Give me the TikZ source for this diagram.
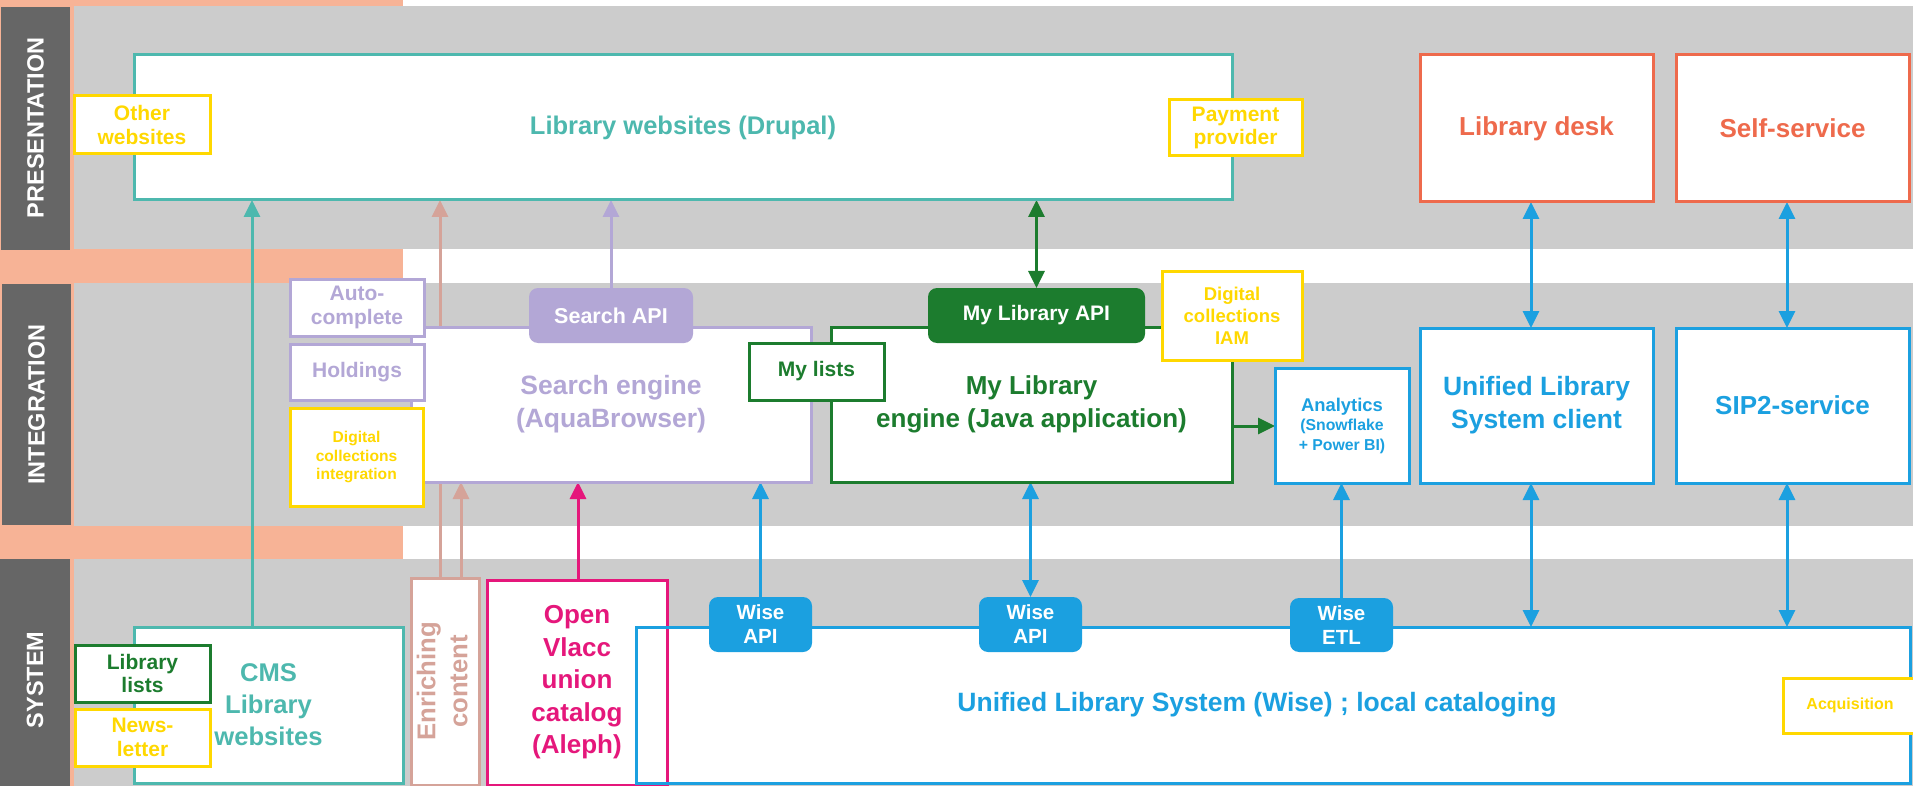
\documentclass[tikz,border=0pt]{standalone}
\usepackage{fontspec}
\setmainfont{Liberation Sans}
\usetikzlibrary{arrows.meta}
\definecolor{bandgray}{HTML}{CCCCCC}
\definecolor{labeldark}{HTML}{666666}
\definecolor{salmon}{HTML}{F7B396}
\definecolor{cteal}{HTML}{4DB8AE}
\definecolor{cgold}{HTML}{FFD800}
\definecolor{clav}{HTML}{B3A7D6}
\definecolor{cgreen}{HTML}{1C7C2E}
\definecolor{cmag}{HTML}{E5177B}
\definecolor{cblue}{HTML}{1BA0E0}
\definecolor{ccoral}{HTML}{EE6A4C}
\definecolor{crose}{HTML}{D5A399}
\pgfdeclarelayer{back}
\pgfsetlayers{back,main}
\tikzset{
  box/.style={draw, fill=white, line width=3pt, inner sep=0pt, outer sep=0pt, align=center},
  sz/.style 2 args={minimum width=#1pt, minimum height=#2pt},
  big/.style={font=\fontsize{26}{32.5}\selectfont\bfseries},
  mid/.style={font=\fontsize{21}{23.5}\selectfont\bfseries},
  pill/.style={rounded corners=9pt, inner sep=0pt, outer sep=0pt, align=center, text=white, font=\fontsize{21}{24}\selectfont\bfseries},
  conn/.style={line width=3pt},
  bandlabel/.style={rotate=90, text=white, inner sep=0pt, font=\fontsize{23.5}{28}\selectfont\bfseries}
}
\begin{document}
\begin{tikzpicture}[x=1pt,y=-1pt,>={Triangle[length=17pt,width=16pt]}]
\useasboundingbox (0,0) rectangle (1913,786);

% band labels
\node[bandlabel] (lpres) at (35.5,128) {PRESENTATION};
\node[bandlabel] (linteg) at (36.5,404.5) {INTEGRATION};
\node[bandlabel] (lsys) at (35,680) {SYSTEM};

% presentation layer
\node[box, sz={1098}{145}, draw=cteal, text=cteal, font=\fontsize{25.5}{30}\selectfont\bfseries] (libweb) at (683,127.5) {Library websites (Drupal)};
\node[box, sz={136}{58}, mid, draw=cgold, text=cgold] (otherweb) at (142,125) {Other\\websites};
\node[box, sz={133}{56}, mid, draw=cgold, text=cgold] (payment) at (1235.5,128) {Payment\\provider};
\node[box, sz={233}{147}, big, draw=ccoral, text=ccoral] (libdesk) at (1536.5,128.5) {Library desk};
\node[box, sz={233}{147}, big, draw=ccoral, text=ccoral] (selfserv) at (1792.5,128.5) {Self-service};

% integration layer
\node[box, sz={400}{155}, draw=clav, text=clav, font=\fontsize{26.5}{33}\selectfont\bfseries] (search) at (611,404.5) {Search engine\\(AquaBrowser)};
\node[box, sz={134}{57}, mid, draw=clav, text=clav] (autoc) at (357,307.5) {Auto-\\complete};
\node[box, sz={134}{56}, mid, draw=clav, text=clav] (holdings) at (357,372) {Holdings};
\node[box, sz={133}{98}, draw=cgold, text=cgold, font=\fontsize{15.6}{18.5}\selectfont\bfseries] (dcint) at (356.5,457) {Digital\\collections\\integration};
\node[pill, fill=clav, sz={164}{55}, font=\fontsize{21.5}{24}\selectfont\bfseries] (searchapi) at (611,315.5) {Search API};
\node[box, sz={401}{155}, big, draw=cgreen, text=cgreen] (engine) at (1031.5,404.5) {My Library\\engine (Java application)};
\node[box, sz={135}{57}, mid, draw=cgreen, text=cgreen] (mylists) at (816.5,371.5) {My lists};
\node[pill, fill=cgreen, sz={217}{55}] (mylibapi) at (1036.5,315.5) {My Library API};
\node[box, sz={140}{88}, draw=cgold, text=cgold, font=\fontsize{18.5}{22}\selectfont\bfseries] (iam) at (1232,316) {Digital\\collections\\IAM};
\node[box, sz={134}{115}, draw=cblue, text=cblue, font=\fontsize{18.4}{19.5}\selectfont\bfseries] (analytics) at (1342,425.5) {Analytics\\{\fontsize{15.8}{19}\selectfont(Snowflake}\\{\fontsize{15.8}{19}\selectfont+ Power BI)}};
\node[box, sz={233}{155}, draw=cblue, text=cblue, font=\fontsize{26.5}{33}\selectfont\bfseries] (uclient) at (1536.5,405.5) {Unified Library\\System client};
\node[box, sz={233}{155}, big, draw=cblue, text=cblue] (sip2) at (1792.5,405.5) {SIP2-service};

% system layer
\node[box, sz={269}{156}, draw=cteal, text=cteal, font=\fontsize{25.6}{32}\selectfont\bfseries] (cms) at (268.5,705) {CMS\\Library\\websites};
\node[box, sz={135}{57}, mid, draw=cgreen, text=cgreen] (liblists) at (142.5,673.5) {Library\\lists};
\node[box, sz={135}{57}, mid, draw=cgold, text=cgold] (newsletter) at (142.5,737.5) {News-\\letter};
\node[box, sz={68}{207}, draw=crose, text=crose, font=\fontsize{25.7}{32}\selectfont\bfseries] (enrich) at (445,681.5) {\rotatebox{90}{\begin{tabular}{@{}c@{}}Enriching\\content\end{tabular}}};
\node[box, sz={1274}{156}, draw=none, fill=white] (uls) at (1273,705) {};
\node[box, sz={180}{205}, big, draw=cmag, text=cmag] (vlacc) at (577,682.5) {Open\\Vlacc\\union\\catalog\\(Aleph)};
\node[box, sz={1274}{156}, fill=none, draw=cblue, text=cblue, font=\fontsize{26.5}{33}\selectfont\bfseries] (ulsframe) at (1273,705) {Unified Library System (Wise) ; local cataloging\hspace*{32pt}};
\node[pill, fill=cblue, sz={103}{55}, font=\fontsize{20.5}{24}\selectfont\bfseries] (wiseapi1) at (760.5,624.5) {Wise\\API};
\node[pill, fill=cblue, sz={103}{55}, font=\fontsize{20.5}{24}\selectfont\bfseries] (wiseapi2) at (1030.5,624.5) {Wise\\API};
\node[pill, fill=cblue, sz={103}{54}, font=\fontsize{20.5}{24}\selectfont\bfseries] (wiseetl) at (1341.5,625) {Wise\\ETL};
\node[box, sz={134}{55}, draw=cgold, text=cgold, font=\fontsize{16}{19}\selectfont\bfseries] (acq) at (1850,705.5) {Acquisition};

% column coordinates
\coordinate (kteal) at (252,0);
\coordinate (krose) at (440,0);
\coordinate (krose2) at (461,0);
\coordinate (kmag) at (578,0);
\coordinate (kb1) at (1531,0);
\coordinate (kb2) at (1787,0);
\coordinate (kg) at (0,426);

\begin{pgfonlayer}{back}
  % bands
  \fill[salmon] (0,0) rectangle (403,786);
  \fill[bandgray] (74,6) rectangle (1913,249);
  \fill[bandgray] (74,283) rectangle (1913,526);
  \fill[bandgray] (74,559) rectangle (1913,786);
  \fill[labeldark] (1,7) rectangle (70,250);
  \fill[labeldark] (2,284) rectangle (71,525);
  \fill[labeldark] (0,559) rectangle (70,786);
  % connectors
  \draw[conn, cteal, ->] (cms.north -| kteal) -- (libweb.south -| kteal);
  \draw[conn, crose, ->] (enrich.north -| krose) -- (libweb.south -| krose);
  \draw[conn, crose, ->] (enrich.north -| krose2) -- (search.south -| krose2);
  \draw[conn, clav, ->] (searchapi.north) -- (libweb.south -| searchapi.north);
  \draw[conn, cmag, ->] (vlacc.north -| kmag) -- (search.south -| kmag);
  \draw[conn, cblue, ->] (wiseapi1.north) -- (search.south -| wiseapi1.north);
  \draw[conn, cblue, <->] (wiseapi2.north) -- (engine.south -| wiseapi2.north);
  \draw[conn, cblue, ->] (wiseetl.north) -- (analytics.south -| wiseetl.north);
  \draw[conn, cblue, <->] (ulsframe.north -| kb1) -- (uclient.south -| kb1);
  \draw[conn, cblue, <->] (ulsframe.north -| kb2) -- (sip2.south -| kb2);
  \draw[conn, cblue, <->] (uclient.north -| kb1) -- (libdesk.south -| kb1);
  \draw[conn, cblue, <->] (sip2.north -| kb2) -- (selfserv.south -| kb2);
  \draw[conn, cgreen, <->] (mylibapi.north) -- (libweb.south -| mylibapi.north);
  \draw[conn, cgreen, ->] (engine.east |- kg) -- (analytics.west |- kg);
\end{pgfonlayer}
\end{tikzpicture}
\end{document}
